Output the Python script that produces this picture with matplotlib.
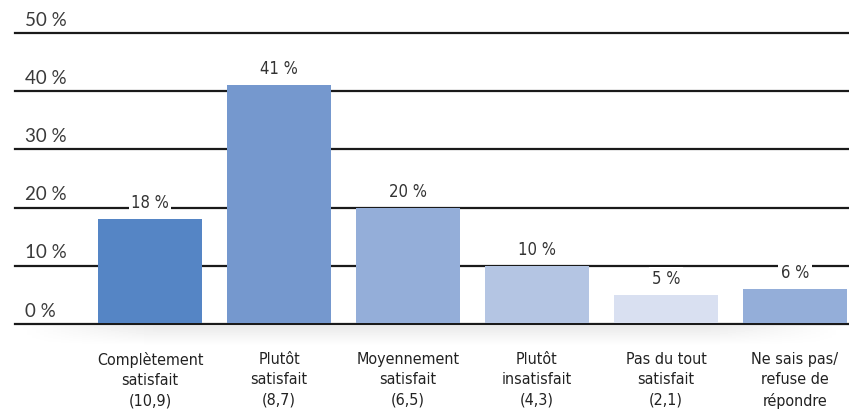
import numpy as np
import matplotlib
matplotlib.use('Agg')
from matplotlib import pyplot as plt
from matplotlib import transforms

# data
categories = ['Complètement\nsatisfait\n(10,9)', 'Plutôt\nsatisfait\n(8,7)',
              'Moyennement\nsatisfait\n(6,5)', 'Plutôt\ninsatisfait\n(4,3)',
              'Pas du tout\nsatisfait\n(2,1)', 'Ne sais pas/\nrefuse de\nrépondre']
values = [18, 41, 20, 10, 5, 6]
yticks = [0, 10, 20, 30, 40, 50]
colors = ['#5585c5', '#7598ce', '#94aed9', '#b4c5e3', '#d9e0f1', '#94aed9']

W, H = 849, 417
fig = plt.figure(figsize=(W / 100, H / 100), dpi=100)
ax = fig.add_axes([15 / W, (H - 324) / H, 1 - 15 / W, (324 - 33) / H])
ax.set_xlim(-1.047, 5.419)
ax.set_ylim(0, 50)
ax.axis('off')

x = np.arange(len(values))
ax.bar(x, [v - 0.15 for v in values], bottom=0.15, width=104 / 129,
       color=colors, zorder=2)

# gridlines and y labels sitting on them
trans = transforms.blended_transform_factory(ax.transAxes, ax.transData)
for t in yticks:
    ax.axhline(t, color='#1a1a1a', lw=1.6, zorder=1, clip_on=False)
    ax.text(10 / 834, t + 0.75, '{}\u2009%'.format(t).replace('\u2009', ' '), transform=trans,
            fontsize=13.5, family='Lato', color='#3a3a3a',
            va='bottom', ha='left')

# value labels with white box cutting the grid
for xi, v in zip(x, values):
    ax.annotate('{} %'.format(v), (xi, v), xytext=(0, 5), textcoords='offset points',
                ha='center', va='bottom', fontsize=12, family='DejaVu Sans',
                stretch='condensed', color='#333333',
                bbox=dict(boxstyle='square,pad=0.15', fc='white', ec='none'), zorder=3)

# category labels
for xi, c in zip(x, categories):
    ax.text(xi, -4.8, c, ha='center', va='top', fontsize=11.5, family='DejaVu Sans',
            stretch='condensed', color='#222222', linespacing=1.45)

# soft shadow under the base line
grad = np.linspace(0.92, 1.0, 20)[:, None] * np.ones((1, 200))
edge = np.minimum(1, np.minimum(np.linspace(0, 1, 200), np.linspace(1, 0, 200)) * 6)
img = 1 - (1 - grad) * edge[None, :]
sax = fig.add_axes([15 / W, (H - 346) / H, 1 - 15 / W, 20 / H], zorder=-1)
sax.imshow(img, cmap='gray', vmin=0, vmax=1, aspect='auto')
sax.axis('off')

fig.savefig('out.png', dpi=100)
